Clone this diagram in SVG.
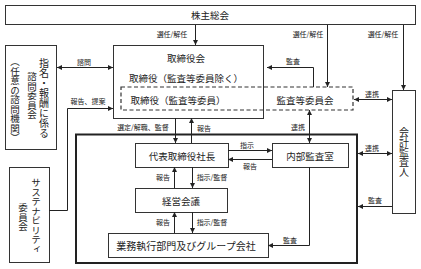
<svg xmlns="http://www.w3.org/2000/svg" width="421" height="269" viewBox="0 0 421 269">
<style>
text{font-family:"Noto Sans CJK JP","Noto Sans",sans-serif;fill:#222}
.t{font-size:9.5px;text-anchor:middle;dominant-baseline:central}
.l{font-size:7px;text-anchor:middle;dominant-baseline:central}
.v{font-size:9.5px;writing-mode:vertical-rl}
.b{fill:#fff;stroke:#333;stroke-width:1}
.d{fill:none;stroke:#333;stroke-width:1.2;stroke-dasharray:4 2.5}
.c{fill:none;stroke:#222;stroke-width:1}
</style>
<defs>
<marker id="a" viewBox="0 0 10 10" refX="10" refY="5" markerWidth="5" markerHeight="5" orient="auto-start-reverse" markerUnits="userSpaceOnUse">
<path d="M0,0L10,5L0,10z" fill="#222"/>
</marker>
</defs>
<g id="shareholders"><rect class="b" x="5.5" y="5.5" width="410" height="19"/><text class="t" x="210" y="15">株主総会</text></g>
<g id="board"><rect class="b" x="113.5" y="45.5" width="150" height="73"/>
<text class="t" x="186" y="58">取締役会</text>
<text class="t" x="186" y="78">取締役（監査等委員除く）</text></g>
<g id="audit-committee"><rect class="d" x="121" y="87" width="232" height="23"/>
<text class="t" x="178" y="100">取締役（監査等委員）</text>
<text class="t" x="305" y="100">監査等委員会</text></g>
<g id="nomination"><rect class="b" x="5.5" y="45.5" width="51" height="104"/>
<text class="v" x="44" y="58" style="font-size:10px">指名・報酬に係る</text>
<text class="v" x="32" y="72">諮問委員会</text>
<text class="v" x="15" y="57">（任意の諮問機関）</text></g>
<g id="sustainability"><rect class="b" x="9.5" y="167.5" width="40" height="95"/>
<text class="v" x="36" y="178">サステナビリティ</text>
<text class="v" x="23" y="203">委員会</text></g>
<g id="auditor"><rect class="b" x="392.5" y="90.5" width="23" height="123"/>
<text class="v" x="404" y="127" style="font-size:10px">会計監査人</text></g>
<g id="execution-frame"><rect x="76" y="134.5" width="281" height="128.5" fill="none" stroke="#222" stroke-width="2"/></g>
<g id="president"><rect class="b" x="135.5" y="143.5" width="93" height="24"/><text class="t" x="182" y="155.5">代表取締役社長</text></g>
<g id="internal-audit"><rect class="b" x="272.5" y="143.5" width="76" height="24"/><text class="t" x="310" y="155.5">内部監査室</text></g>
<g id="management"><rect class="b" x="135.5" y="188.5" width="92" height="24"/><text class="t" x="181" y="200.5">経営会議</text></g>
<g id="business"><rect class="b" x="108.5" y="233.5" width="160" height="24"/><text class="t" x="186" y="245.5" style="font-size:10px">業務執行部門及びグループ会社</text></g>
<g id="connectors">
<path class="c" d="M195.5,25V45" marker-end="url(#a)"/>
<text class="l" x="172" y="34">選任/解任</text>
<path class="c" d="M327.5,25V87" marker-end="url(#a)"/>
<text class="l" x="308" y="34">選任/解任</text>
<path class="c" d="M403.5,25V90" marker-end="url(#a)"/>
<text class="l" x="383" y="34">選任/解任</text>
<path class="c" d="M57,67.5H113" marker-start="url(#a)" marker-end="url(#a)"/>
<text class="l" x="84" y="62">諮問</text>
<path class="c" d="M313.5,87V67.5H267" marker-end="url(#a)"/>
<text class="l" x="293" y="61">監査</text>
<path class="c" d="M49,210.5H67.5V108.5H113" marker-end="url(#a)"/>
<text class="l" x="88" y="101">報告、提案</text>
<path class="c" d="M354,99.5H392" marker-start="url(#a)" marker-end="url(#a)"/>
<text class="l" x="372" y="94">連携</text>
<path class="c" d="M309.5,110V143" marker-start="url(#a)" marker-end="url(#a)"/>
<text class="l" x="298" y="127">連携</text>
<path class="c" d="M175.5,118V143" marker-end="url(#a)"/>
<text class="l" x="143" y="127">選定/解職、監督</text>
<path class="c" d="M191.5,143V118" marker-end="url(#a)"/>
<text class="l" x="204" y="128">報告</text>
<path class="c" d="M174.5,188V167" marker-end="url(#a)"/>
<text class="l" x="163" y="177">報告</text>
<path class="c" d="M192.5,167V188" marker-end="url(#a)"/>
<text class="l" x="212" y="177">指示/監督</text>
<path class="c" d="M174.5,233V212" marker-end="url(#a)"/>
<text class="l" x="163" y="222">報告</text>
<path class="c" d="M192.5,212V233" marker-end="url(#a)"/>
<text class="l" x="212" y="222">指示/監督</text>
<path class="c" d="M228,150.5H272" marker-end="url(#a)"/>
<text class="l" x="247" y="145">指示</text>
<path class="c" d="M272,159.5H228" marker-end="url(#a)"/>
<text class="l" x="250" y="166">報告</text>
<path class="c" d="M309.5,167V245.5H268" marker-end="url(#a)"/>
<text class="l" x="290" y="240">監査</text>
<path class="c" d="M358,153.5H392" marker-start="url(#a)" marker-end="url(#a)"/>
<text class="l" x="372" y="148">連携</text>
<path class="c" d="M392,206.5H358" marker-end="url(#a)"/>
<text class="l" x="375" y="200">監査</text>
</g>
</svg>
